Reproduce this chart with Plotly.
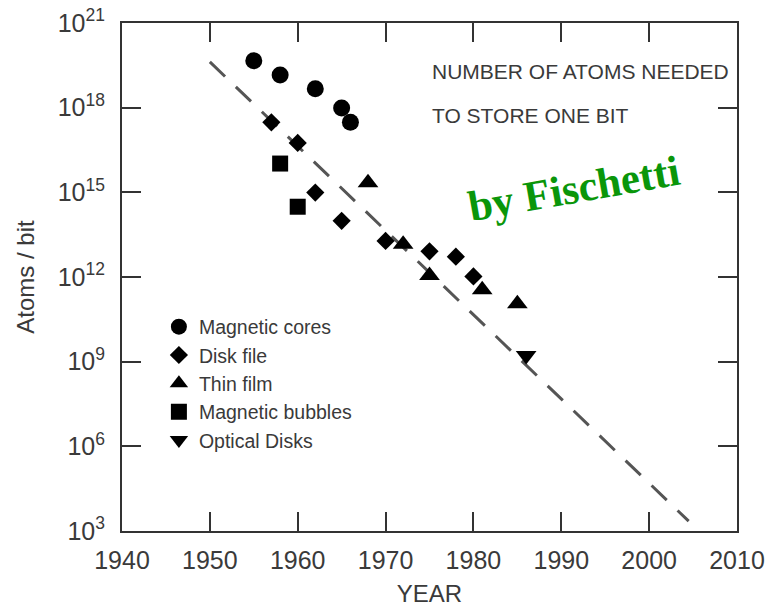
import plotly.graph_objects as go

# Storage density history: atoms required per stored bit
core_years = [1955, 1958, 1962, 1965, 1966]
core_atoms = [10**19.66, 10**19.16, 10**18.67, 10**17.99, 10**17.48]

disk_years = [1957, 1960, 1962, 1965, 1970, 1975, 1978, 1980]
disk_atoms = [10**17.48, 10**16.75, 10**14.99, 10**13.99, 10**13.28, 10**12.91, 10**12.72, 10**12.02]

film_years = [1968, 1972, 1975, 1981, 1985]
film_atoms = [10**15.34, 10**13.16, 10**12.05, 10**11.55, 10**11.05]

bubble_years = [1958, 1960]
bubble_atoms = [10**16.02, 10**14.49]

optical_years = [1986]
optical_atoms = [10**9.22]

trend_years = [1950, 2004.5]
trend_atoms = [10**19.62, 10**3.35]

x_ticks = [1940, 1950, 1960, 1970, 1980, 1990, 2000, 2010]
y_exponents = [3, 6, 9, 12, 15, 18, 21]

INK = "#3a3a3a"
FONT = "Liberation Sans, Arial, sans-serif"

fig = go.Figure()

fig.add_trace(go.Scatter(
    x=trend_years, y=trend_atoms, mode="lines", showlegend=False,
    line=dict(color="#555555", width=3, dash="21px,15px"), hoverinfo="skip"))

series = [
    ("Magnetic cores", core_years, core_atoms, "circle", 17),
    ("Disk file", disk_years, disk_atoms, "diamond", 14),
    ("Thin film", film_years, film_atoms, "triangle-up", 18),
    ("Magnetic bubbles", bubble_years, bubble_atoms, "square", 16),
    ("Optical Disks", optical_years, optical_atoms, "triangle-down", 18),
]
for name, xs, ys, sym, size in series:
    fig.add_trace(go.Scatter(
        x=xs, y=ys, mode="markers", name=name,
        marker=dict(symbol=sym, size=size, color="black", line=dict(width=0))))

axis_common = dict(
    showline=True, linecolor="#333333", linewidth=2, mirror="ticks",
    ticks="inside", ticklen=19, tickwidth=2, tickcolor="#333333",
    showgrid=False, zeroline=False, automargin=False,
    tickfont=dict(family=FONT, size=25, color=INK),
    title_font=dict(family=FONT, size=24, color=INK),
)

fig.update_xaxes(
    range=[1940, 2010], tickvals=x_ticks, ticktext=[str(v) for v in x_ticks],
    title_text="YEAR", title_standoff=14, ticklabelstandoff=6, **axis_common)

fig.update_yaxes(
    type="log", range=[3, 21],
    tickvals=[10.0**e for e in y_exponents],
    ticktext=[f"10<sup>{e}</sup>" for e in y_exponents],
    title_text="Atoms / bit", title_standoff=16, ticklabelstandoff=10,
    **axis_common)

fig.update_layout(
    width=769, height=607,
    margin=dict(l=122, r=32, t=23, b=76),
    paper_bgcolor="white", plot_bgcolor="white",
    font=dict(family=FONT, color=INK),
    legend=dict(
        x=0.06, y=0.44, xanchor="left", yanchor="top",
        bgcolor="rgba(0,0,0,0)", borderwidth=0,
        font=dict(family=FONT, size=19.5, color=INK),
        itemsizing="trace", tracegroupgap=0),
    annotations=[
        dict(text="NUMBER OF ATOMS NEEDED", xref="paper", yref="paper",
             x=0.5, y=0.905, xanchor="left", yanchor="middle", showarrow=False,
             font=dict(family=FONT, size=21, color=INK)),
        dict(text="TO STORE ONE BIT", xref="paper", yref="paper",
             x=0.5, y=0.818, xanchor="left", yanchor="middle", showarrow=False,
             font=dict(family=FONT, size=21, color=INK)),
        dict(text="<b>by Fischetti</b>", xref="paper", yref="paper",
             x=0.735, y=0.675, xanchor="center", yanchor="middle", showarrow=False,
             textangle=-10,
             font=dict(family="Liberation Serif, Times New Roman, serif", size=43, color="#0a960a")),
    ],
)

fig.write_html("out.html")
